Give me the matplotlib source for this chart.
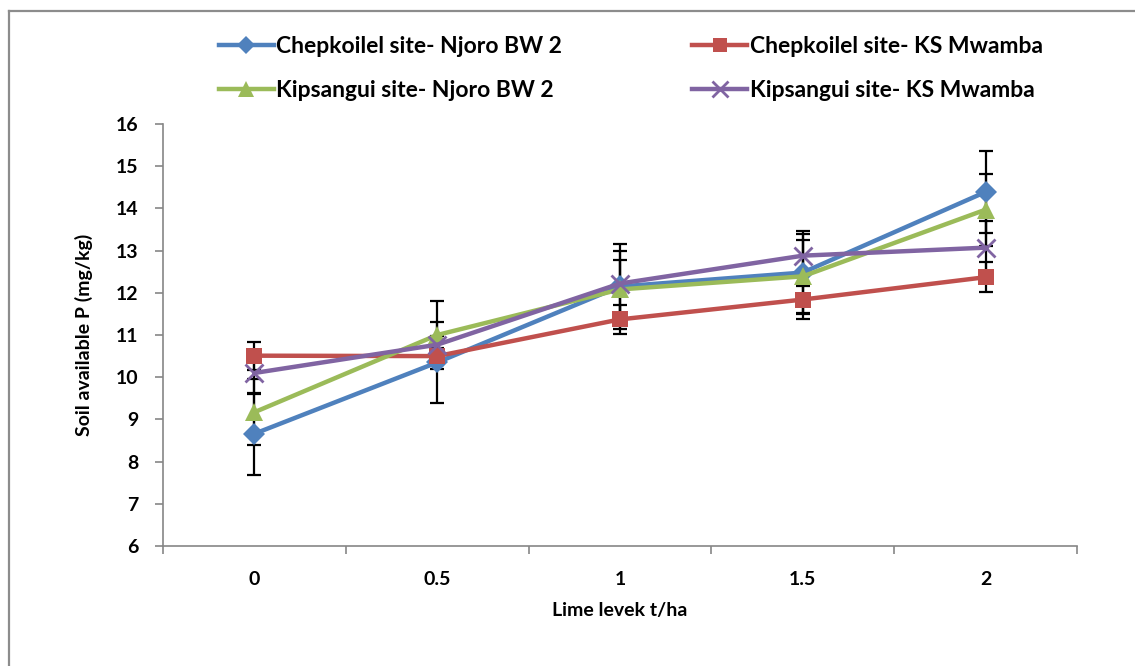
import matplotlib
matplotlib.use("Agg")

import numpy as np
import matplotlib.pyplot as plt
from matplotlib.lines import Line2D

plt.rcParams['font.family'] = ['Lato', 'DejaVu Sans']
plt.rcParams['font.weight'] = 'bold'

# lime rates (category axis)
lime_levels = ['0', '0.5', '1', '1.5', '2']

# soil available P, mg/kg, with error bar half-widths
chep_njoro = [8.66, 10.35, 12.15, 12.48, 14.39]
chep_njoro_err = [0.97, 0.95, 1.00, 0.98, 0.98]

chep_mwamba = [10.51, 10.50, 11.37, 11.84, 12.37]
chep_mwamba_err = [0.33, 0.20, 0.34, 0.31, 0.36]

kip_njoro = [9.17, 11.00, 12.08, 12.39, 13.97]
kip_njoro_err = [0.78, 0.80, 0.70, 1.00, 0.85]

kip_mwamba = [10.10, 10.77, 12.22, 12.88, 13.07]
kip_mwamba_err = [0.50, 0.20, 0.78, 0.36, 0.64]

series_names = ['Chepkoilel site- Njoro BW 2', 'Chepkoilel site- KS Mwamba',
                'Kipsangui site- Njoro BW 2', 'Kipsangui site- KS Mwamba']

fig = plt.figure(figsize=(11.35, 6.66), dpi=100)
ax = fig.add_axes([163/1135, 1 - 546/666, 914/1135, 422/666])

x = np.arange(len(lime_levels))
styles = [
    (chep_njoro, chep_njoro_err, '#4F81BD', 'D', 11),
    (chep_mwamba, chep_mwamba_err, '#C0504D', 's', 12),
    (kip_njoro, kip_njoro_err, '#9BBB59', '^', 13),
    (kip_mwamba, kip_mwamba_err, '#8064A2', 'x', 13),
]

handles = []
for (vals, err, col, mk, ms), name in zip(styles, series_names):
    ax.errorbar(x, vals, yerr=err, fmt='none', ecolor='black',
                elinewidth=1.6, capsize=5, capthick=1.6, zorder=2)
    kw = dict(markeredgewidth=2) if mk == 'x' else dict(markeredgewidth=0)
    h, = ax.plot(x, vals, color=col, lw=3.2, marker=mk, ms=ms,
                 label=name, zorder=3, **kw)
    handles.append(h)

ax.set_xlim(-0.5, len(lime_levels) - 0.5)
ax.set_ylim(6, 16)
ax.set_yticks(np.arange(6, 17, 1))
ax.set_xticks(x)
ax.set_xticklabels(lime_levels)
ax.set_xticks(np.arange(-0.5, len(lime_levels), 1), minor=True)
ax.tick_params(axis='x', which='major', length=0, pad=18, labelsize=14)
ax.tick_params(axis='x', which='minor', length=6, color='#868686', width=1.2)
ax.tick_params(axis='y', length=6, color='#868686', width=1.2, pad=12, labelsize=14)

for s in ['top', 'right']:
    ax.spines[s].set_visible(False)
for s in ['left', 'bottom']:
    ax.spines[s].set_color('#868686')
    ax.spines[s].set_linewidth(1.2)

ax.set_xlabel('Lime levek t/ha', fontsize=14, fontweight='bold', labelpad=10)
ax.set_ylabel('Soil available P (mg/kg)', fontsize=14, fontweight='bold', labelpad=16)

# legend: two columns, Chepkoilel on top row
order = [0, 2, 1, 3]
fig.legend([handles[i] for i in order], [series_names[i] for i in order],
           ncol=2, loc='upper left', bbox_to_anchor=(198/1135, 1 - 15/666),
           frameon=False, fontsize=16.5, handlelength=2.4, handletextpad=0.1,
           labelspacing=1.0, columnspacing=5.7, markerscale=0.85)

# outer chart frame
fig.add_artist(Line2D([9/1135, 9/1135], [0, 1 - 11/666], color='#8c8c8c', lw=1.6))
fig.add_artist(Line2D([9/1135, 1], [1 - 11/666, 1 - 11/666], color='#8c8c8c', lw=1.6))

fig.savefig('out.png', dpi=100)
